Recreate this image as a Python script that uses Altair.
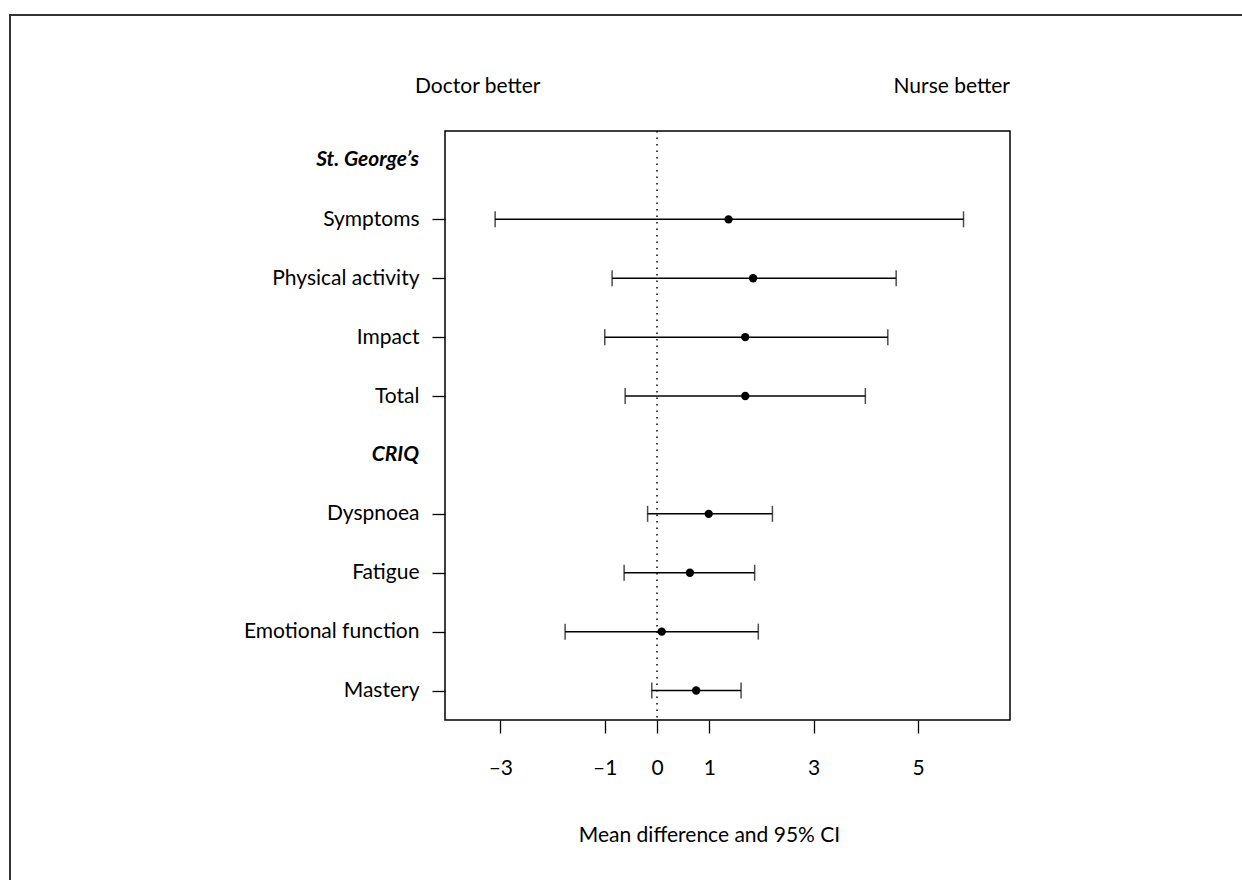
import altair as alt
import pandas as pd

rows = ["St. George’s", "Symptoms", "Physical activity", "Impact", "Total",
        "CRIQ", "Dyspnoea", "Fatigue", "Emotional function", "Mastery"]
headers = ["St. George’s", "CRIQ"]
items = ["Symptoms", "Physical activity", "Impact", "Total",
         "Dyspnoea", "Fatigue", "Emotional function", "Mastery"]
means = [1.37, 1.84, 1.69, 1.69, 0.99, 0.63, 0.09, 0.75]
lower = [-3.10, -0.86, -1.00, -0.61, -0.18, -0.63, -1.76, -0.10]
upper = [5.87, 4.58, 4.42, 3.99, 2.21, 1.87, 1.94, 1.61]
x_ticks = [-3, -1, 0, 1, 3, 5]
x_domain = [-4.06, 6.76]

FONT = "Lato"
FS = 21
df = pd.DataFrame({"label": items, "mean": means, "lo": lower, "hi": upper})
hdr = pd.DataFrame({"label": headers})
zero = pd.DataFrame({"x": [0]})
one = pd.DataFrame({"a": [0]})

W, H = 565, 589

yenc = alt.Y("label:N", sort=rows,
             scale=alt.Scale(type="point", domain=rows, padding=0.5),
             axis=alt.Axis(values=items, title=None, labelFont=FONT, labelFontSize=FS,
                           labelColor="black", tickColor="black", tickSize=13,
                           tickWidth=1.3, labelPadding=13, domain=False, grid=False))
xscale = alt.Scale(domain=x_domain, nice=False, zero=False)
xaxis = alt.Axis(values=x_ticks, title="Mean difference and 95% CI",
                 labelFont=FONT, labelFontSize=FS, labelColor="black",
                 labelExpr="datum.value < 0 ? '–' + abs(datum.value) : datum.label",
                 tickColor="black", tickSize=13, tickWidth=1.3, labelPadding=24,
                 domain=False, grid=False, titleFont=FONT, titleFontSize=FS,
                 titleFontWeight="normal", titleColor="black",
                 titleX=264, titleY=115, titleBaseline="middle", titleAlign="center")

base = alt.Chart(df)
bars = base.mark_rule(color="black", strokeWidth=1.5).encode(
    x=alt.X("lo:Q", scale=xscale, axis=xaxis), x2="hi:Q", y=yenc)
capl = base.mark_tick(color="black", thickness=1.5, size=16, orient="vertical").encode(
    x=alt.X("lo:Q", scale=xscale), y=yenc)
caph = base.mark_tick(color="black", thickness=1.5, size=16, orient="vertical").encode(
    x=alt.X("hi:Q", scale=xscale), y=yenc)
pts = base.mark_point(filled=True, color="black", size=70, opacity=1).encode(
    x=alt.X("mean:Q", scale=xscale), y=yenc)

zline = alt.Chart(zero).mark_rule(color="black", strokeWidth=1.5, strokeDash=[1.5, 5]).encode(
    x=alt.X("x:Q", scale=xscale))

heads = alt.Chart(hdr).mark_text(font=FONT, fontSize=FS, fontWeight="bold", fontStyle="italic",
                                 align="right", baseline="middle", color="black").encode(
    x=alt.value(-26), y=yenc, text="label:N")

left_t = alt.Chart(one).mark_text(font=FONT, fontSize=FS, align="left", baseline="middle",
                                  color="black").encode(
    x=alt.value(-30), y=alt.value(-44), text=alt.value("Doctor better"))
right_t = alt.Chart(one).mark_text(font=FONT, fontSize=FS, align="right", baseline="middle",
                                   color="black").encode(
    x=alt.value(W), y=alt.value(-44), text=alt.value("Nurse better"))

frame = alt.Chart(one).mark_rect(fill=None, stroke="#333333", strokeWidth=2).encode(
    x=alt.value(-435), x2=alt.value(900), y=alt.value(-116), y2=alt.value(900))

chart = alt.layer(frame, zline, bars, capl, caph, pts, heads, left_t, right_t).properties(
    width=W, height=H,
    background="white",
    padding={"left": 445, "top": 131, "right": 232, "bottom": 160},
    autosize=alt.AutoSizeParams(type="none"),
).configure_view(stroke="black", strokeWidth=1.5)

chart.save("out.html", embed_options={"renderer": "svg", "actions": False})
